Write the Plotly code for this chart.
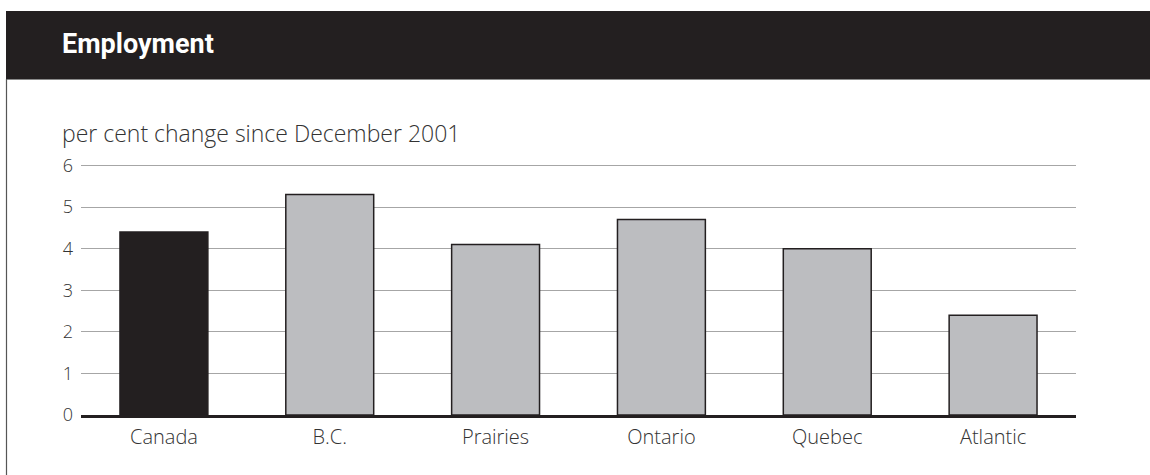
import plotly.graph_objects as go

categories = ["Canada", "B.C.", "Prairies", "Ontario", "Quebec", "Atlantic"]
values = [4.4, 5.3, 4.1, 4.7, 4.0, 2.4]
tick_vals = [0, 1, 2, 3, 4, 5, 6]
title_text = "Employment"
subtitle_text = "per cent change since December 2001"

DARK = "#231f20"
GREY = "#bcbdc0"
TEXT = "#333333"
colors = [DARK] + [GREY] * (len(categories) - 1)
LIGHT_FONT = "Open Sans, Liberation Sans, Arial, sans-serif"

W, H = 1150, 475
YTOP = 6.06
L, R, B = 81, 74, 60
unit = (415 - 165) / 6.0
T = int(round(165 - (YTOP - 6) * unit))
pw = W - L - R
ph = H - T - B

def px_x(px):
    return (px - L) / pw

def px_y(py):
    return (H - B - py) / ph

fig = go.Figure()
fig.add_trace(go.Bar(
    x=categories, y=values,
    marker=dict(color=colors, line=dict(color=DARK, width=1.5)),
    width=0.53,
    hoverinfo="x+y",
))

shapes = [
    dict(type="rect", xref="paper", yref="paper",
         x0=px_x(6), x1=px_x(1152), y0=px_y(79), y1=px_y(11),
         fillcolor=DARK, line=dict(width=0), layer="below"),
    dict(type="line", xref="paper", yref="paper",
         x0=px_x(6), x1=px_x(1152), y0=px_y(79.5), y1=px_y(79.5),
         line=dict(color="#8a8a8a", width=1)),
    dict(type="line", xref="paper", yref="paper",
         x0=px_x(6.5), x1=px_x(6.5), y0=px_y(79), y1=px_y(480),
         line=dict(color="#555555", width=1.2)),
]

annotations = [
    dict(text=f"<b>{title_text}</b>", xref="paper", yref="paper",
         x=px_x(60), y=px_y(44), xanchor="left", yanchor="middle",
         showarrow=False,
         font=dict(family="Roboto, DejaVu Sans Condensed, sans-serif",
                   size=27, color="white")),
    dict(text=subtitle_text, xref="paper", yref="paper",
         x=px_x(60), y=px_y(133), xanchor="left", yanchor="middle",
         showarrow=False,
         font=dict(family=LIGHT_FONT, size=23, color=TEXT, weight=300)),
]

fig.update_layout(
    width=W, height=H,
    margin=dict(l=L, r=R, t=T, b=B, pad=0),
    paper_bgcolor="white", plot_bgcolor="white",
    showlegend=False,
    shapes=shapes, annotations=annotations,
    font=dict(family=LIGHT_FONT, color=TEXT),
    xaxis=dict(
        showline=True, linecolor=DARK, linewidth=3,
        showgrid=False, ticks="",
        tickfont=dict(family=LIGHT_FONT, size=20, color=TEXT, weight=300),
        ticklabelstandoff=2,
        fixedrange=True,
    ),
    yaxis=dict(
        range=[0, YTOP], tickvals=tick_vals,
        showgrid=True, gridcolor="#a6a6a6", gridwidth=1,
        zeroline=False, showline=False, ticks="",
        tickfont=dict(family=LIGHT_FONT, size=18, color=TEXT, weight=300),
        ticklabelstandoff=7,
        fixedrange=True,
    ),
)

fig.write_html("out.html", config={"displayModeBar": False},
               post_script="document.body.style.margin='0px';")
